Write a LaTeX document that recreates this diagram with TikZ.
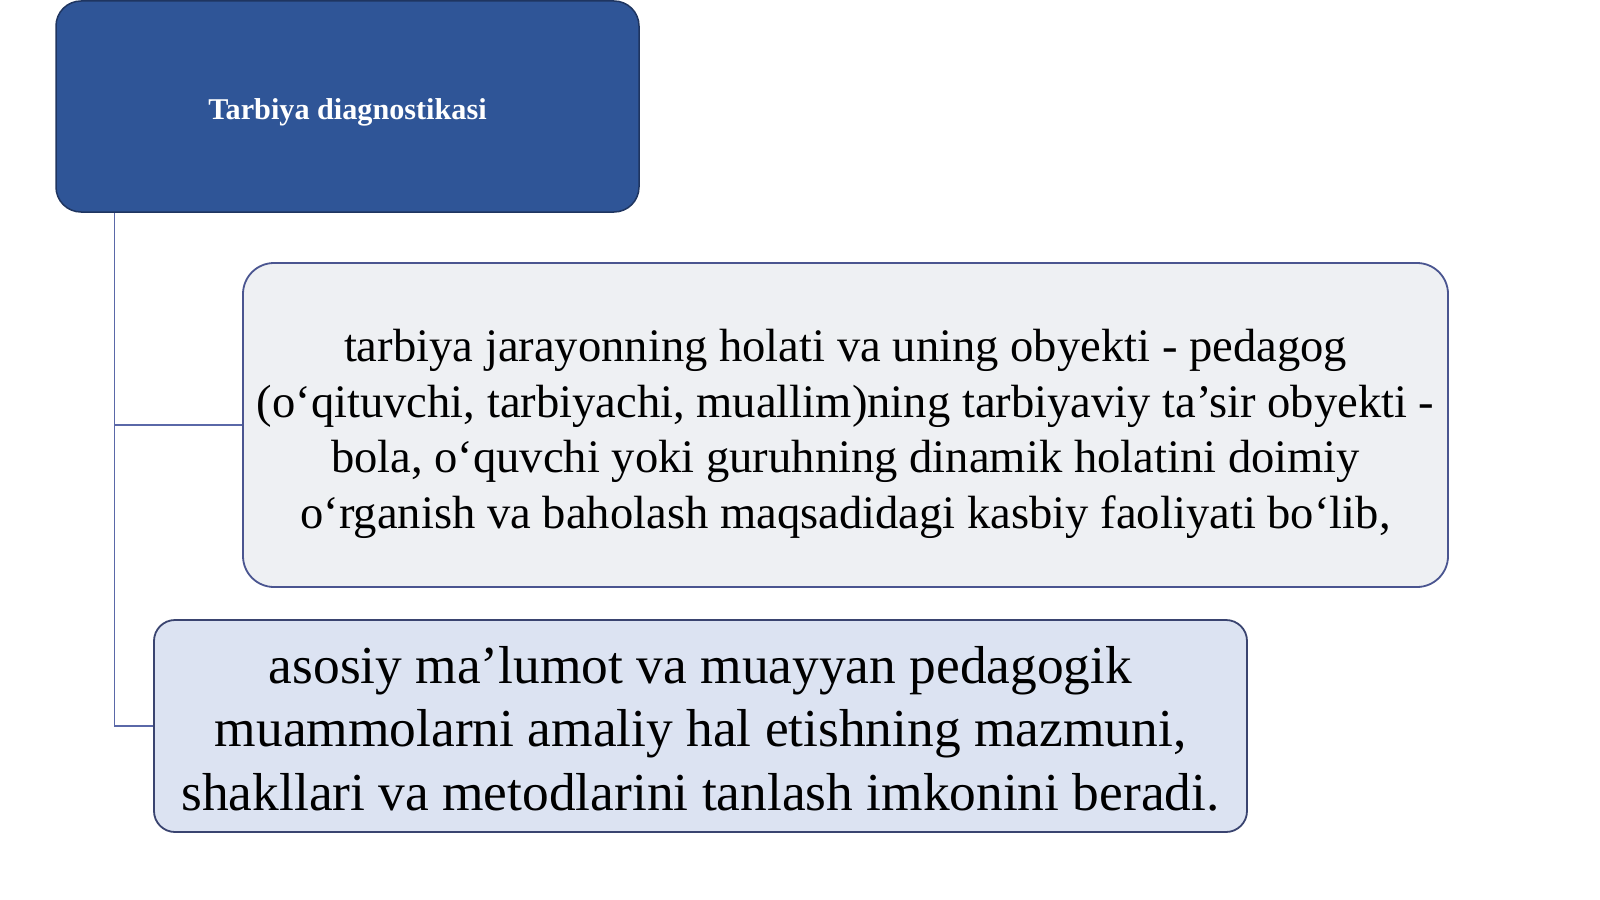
\documentclass[tikz,border=0pt]{standalone}
\usepackage{fontspec}
\setmainfont{Liberation Serif}
\newcommand{\shiftdown}[2]{\raisebox{-#1}[\height][\depth]{#2}}
\begin{document}
\begin{tikzpicture}[x=1pt,y=-1pt,
  topbox/.style={draw=topborder,line width=1.5pt,fill=topfill,rounded corners=25pt,
    minimum width=583pt,minimum height=211pt,inner sep=0pt,text=white,
    font=\fontsize{30.2}{36}\selectfont\bfseries},
  midbox/.style={draw=boxborder,line width=1.8pt,fill=midfill,rounded corners=31pt,
    minimum width=1205pt,minimum height=324pt,inner sep=0pt,align=center,
    font=\fontsize{46.6}{55.5}\selectfont},
  lowbox/.style={draw=lowborder,line width=1.8pt,fill=lowfill,rounded corners=21pt,
    minimum width=1093pt,minimum height=212pt,inner sep=0pt,align=center,
    font=\fontsize{53.4}{63.5}\selectfont},
  link/.style={draw=linkcol,line width=1.5pt}]
\definecolor{topfill}{HTML}{2F5597}
\definecolor{topborder}{HTML}{1F3560}
\definecolor{midfill}{HTML}{EEF0F3}
\definecolor{boxborder}{HTML}{4A5590}
\definecolor{lowfill}{HTML}{DCE3F2}
\definecolor{lowborder}{HTML}{3A4470}
\definecolor{linkcol}{HTML}{5A68A8}
\useasboundingbox (0,0) rectangle (1600,899);
\fill[white] (0,0) rectangle (1600,899);
\node[topbox] (top) at (347.5,106.5) {\shiftdown{6pt}{Tarbiya diagnostikasi}};
\node[midbox] (mid) at (845.5,425) {\shiftdown{9pt}{\parbox{1195pt}{\centering tarbiya jarayonning holati va uning obyekti - pedagog\\
(o‘qituvchi, tarbiyachi, muallim)ning tarbiyaviy ta’sir obyekti -\\
bola, o‘quvchi yoki guruhning dinamik holatini doimiy\\
o‘rganish va baholash maqsadidagi kasbiy faoliyati bo‘lib,}}};
\node[lowbox] (low) at (700.5,726) {\shiftdown{2.5pt}{\parbox{1083pt}{\centering asosiy ma’lumot va muayyan pedagogik\\
muammolarni amaliy hal etishning mazmuni,\\
shakllari va metodlarini tanlash imkonini beradi.}}};
\path (top.south west) ++(59,0) coordinate (trunk);
\draw[link] (trunk) |- (mid.west);
\draw[link] (trunk) |- (low.west);
\end{tikzpicture}
\end{document}
